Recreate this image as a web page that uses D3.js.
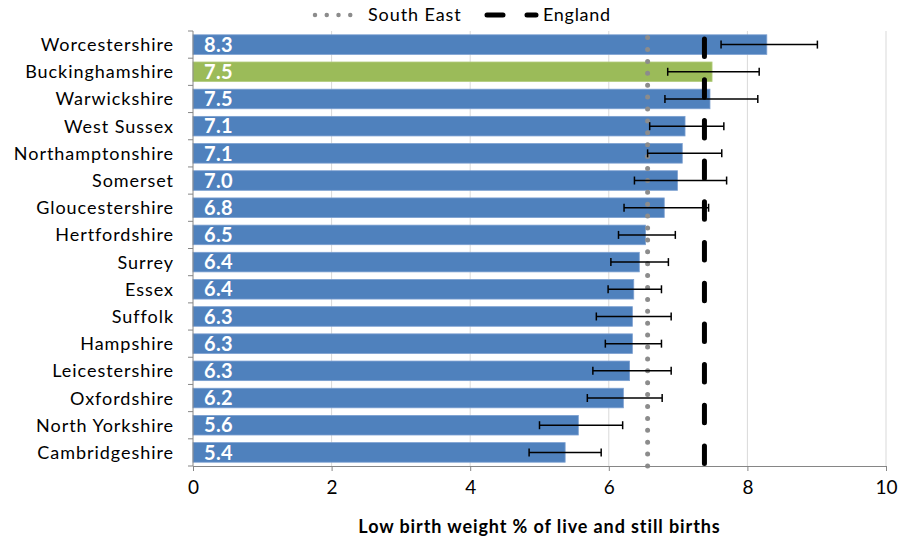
<!DOCTYPE html>
<html><head><meta charset="utf-8">
<script src="https://cdn.jsdelivr.net/npm/d3@7"></script>
<style>
body{margin:0;background:#fff;}
svg{display:block;}
text{font-family:Lato,"Open Sans",sans-serif;}
</style></head>
<body>
<svg id="c" width="903" height="539"></svg>
<script>
const categories = ["Worcestershire","Buckinghamshire","Warwickshire","West Sussex","Northamptonshire","Somerset","Gloucestershire","Hertfordshire","Surrey","Essex","Suffolk","Hampshire","Leicestershire","Oxfordshire","North Yorkshire","Cambridgeshire"];
const values = [8.28,7.49,7.46,7.10,7.06,6.99,6.80,6.53,6.44,6.36,6.34,6.34,6.30,6.21,5.56,5.37];
const lowerCI = [7.62,6.85,6.81,6.59,6.56,6.37,6.22,6.14,6.03,5.99,5.82,5.95,5.77,5.69,5.00,4.85];
const upperCI = [9.01,8.17,8.15,7.66,7.63,7.70,7.44,6.96,6.86,6.76,6.90,6.76,6.90,6.77,6.20,5.89];
const highlight = "Buckinghamshire";
const southEast = 6.56;
const england = 7.38;
const xTicks = [0,2,4,6,8,10];
const xTitle = "Low birth weight % of live and still births";
const legendLabels = ["South East","England"];

const svg = d3.select("#c");
const L = 193, R = 886, T = 31, B = 466;
const x = d3.scaleLinear().domain([0,10]).range([L,R]);
const y = d3.scaleBand().domain(categories).range([T,B]).paddingInner(0.28).paddingOuter(0.14);
const yb = d3.scaleBand().domain(categories).range([T,B]);

// gridlines
svg.append("g").selectAll("line").data(xTicks.filter(d=>d>0)).join("line")
  .attr("x1",d=>x(d)).attr("x2",d=>x(d)).attr("y1",T).attr("y2",B)
  .attr("stroke","#d9d9d9").attr("stroke-width",1);

// bars
svg.append("g").selectAll("rect").data(categories).join("rect")
  .attr("x",x(0)).attr("y",d=>y(d)).attr("height",y.bandwidth())
  .attr("width",(d,i)=>x(values[i])-x(0))
  .attr("fill",d=>d===highlight?"#9bbb59":"#4f81bd")
  .attr("stroke",d=>d===highlight?"#b4cc80":"#7b9fd0").attr("stroke-width",0.8);

// value labels
svg.append("g").selectAll("text").data(categories).join("text")
  .attr("x",x(0)+11).attr("y",d=>y(d)+y.bandwidth()/2).attr("dy","0.36em")
  .attr("fill","#fff").attr("font-weight","bold").attr("font-size",20).attr("letter-spacing",0.3)
  .text((d,i)=>values[i].toFixed(1));

// South East dotted line
svg.append("line").attr("x1",x(southEast)).attr("x2",x(southEast)).attr("y1",B).attr("y2",T)
  .attr("stroke","#8c8c8c").attr("stroke-width",5).attr("stroke-linecap","round")
  .attr("stroke-dasharray","0,11.9");
// England dashed line
svg.append("line").attr("x1",x(england)).attr("x2",x(england)).attr("y1",B-2.5).attr("y2",T)
  .attr("stroke","#000").attr("stroke-width",5).attr("stroke-linecap","round")
  .attr("stroke-dasharray","17.5,23.2");

// error bars
const eb = svg.append("g").attr("stroke","#000").attr("stroke-width",1.5);
categories.forEach((c,i)=>{
  const cy = y(c)+y.bandwidth()/2;
  eb.append("line").attr("x1",x(lowerCI[i])).attr("x2",x(upperCI[i])).attr("y1",cy).attr("y2",cy);
  eb.append("line").attr("x1",x(lowerCI[i])).attr("x2",x(lowerCI[i])).attr("y1",cy-4).attr("y2",cy+4);
  eb.append("line").attr("x1",x(upperCI[i])).attr("x2",x(upperCI[i])).attr("y1",cy-4).attr("y2",cy+4);
});

// axes
const ax = svg.append("g").attr("transform",`translate(0,${B})`)
  .call(d3.axisBottom(x).tickValues(xTicks).tickSize(5).tickSizeOuter(0).tickPadding(10).tickFormat(d3.format("d")));
ax.select(".domain").attr("stroke","#868686");
ax.selectAll(".tick line").attr("stroke","#868686");
ax.selectAll("text").attr("font-size",19).attr("fill","#000").style("font-family","Lato,'Open Sans',sans-serif");

// y axis: line + ticks at band boundaries
svg.append("line").attr("x1",L).attr("x2",L).attr("y1",T).attr("y2",B).attr("stroke","#868686");
svg.append("g").selectAll("line").data(categories.concat(["__end"])).join("line")
  .attr("x1",L-5).attr("x2",L)
  .attr("y1",(d,i)=>T+i*yb.step()).attr("y2",(d,i)=>T+i*yb.step())
  .attr("stroke","#868686");
svg.append("g").selectAll("text").data(categories).join("text")
  .attr("x",174).attr("y",d=>y(d)+y.bandwidth()/2).attr("dy","0.36em")
  .attr("text-anchor","end").attr("font-size",18).attr("letter-spacing",0.95).attr("fill","#000").text(d=>d);

// x title
svg.append("text").attr("x",(L+R)/2).attr("y",527).attr("dy","0.36em")
  .attr("text-anchor","middle").attr("font-weight","bold").attr("font-size",18).attr("letter-spacing",0.9).text(xTitle);

// legend
const lg = svg.append("g");
lg.append("line").attr("x1",315).attr("x2",362).attr("y1",15).attr("y2",15)
  .attr("stroke","#8c8c8c").attr("stroke-width",4.5).attr("stroke-linecap","round").attr("stroke-dasharray","0,11.75");
lg.append("text").attr("x",368).attr("y",15).attr("dy","0.36em").attr("font-size",18).attr("letter-spacing",0.9).text(legendLabels[0]);
lg.append("line").attr("x1",487).attr("x2",536).attr("y1",15).attr("y2",15)
  .attr("stroke","#000").attr("stroke-width",5).attr("stroke-linecap","round").attr("stroke-dasharray","16,24");
lg.append("text").attr("x",543).attr("y",15).attr("dy","0.36em").attr("font-size",18).attr("letter-spacing",0.7).text(legendLabels[1]);
</script>
</body></html>
